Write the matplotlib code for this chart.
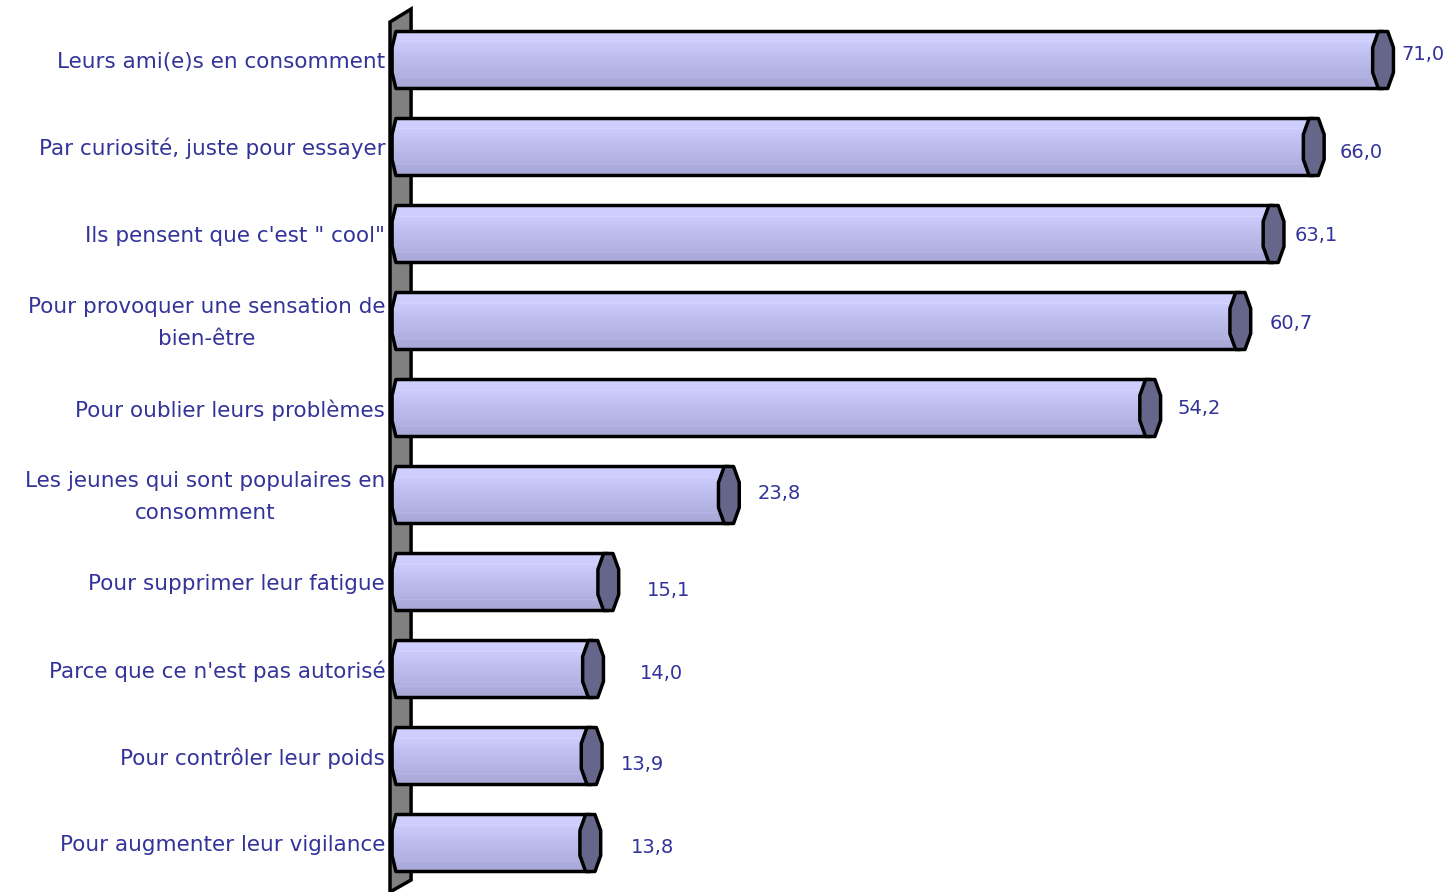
import numpy as np
import matplotlib
matplotlib.use("Agg")
import matplotlib.pyplot as plt
from matplotlib.patches import PathPatch, Polygon
from matplotlib.path import Path

categories = [
    "Leurs ami(e)s en consomment",
    "Par curiosité, juste pour essayer",
    "Ils pensent que c'est \" cool\"",
    "Pour provoquer une sensation de\nbien-être",
    "Pour oublier leurs problèmes",
    "Les jeunes qui sont populaires en\nconsomment",
    "Pour supprimer leur fatigue",
    "Parce que ce n'est pas autorisé",
    "Pour contrôler leur poids",
    "Pour augmenter leur vigilance",
]
values = [71.0, 66.0, 63.1, 60.7, 54.2, 23.8, 15.1, 14.0, 13.9, 13.8]
value_labels = ["71,0", "66,0", "63,1", "60,7", "54,2", "23,8", "15,1", "14,0", "13,9", "13,8"]

# label placement offsets (style, in data units)
label_dx = [1.35, 1.85, 1.55, 2.1, 1.95, 2.05, 2.8, 3.4, 2.1, 2.95]
label_dy = [-0.06, 0.06, 0.02, 0.03, 0.01, -0.02, 0.10, 0.05, 0.10, 0.05]

TEXT = "#333399"
FONT = "DejaVu Sans"

fig = plt.figure(figsize=(14.5, 8.92), dpi=100)
ax = fig.add_axes([0, 0, 1, 1])
ax.set_xlim(-28.79, 75.83)
ax.set_ylim(9.563, -0.6897)
ax.axis("off")

# back wall
wall = Polygon([(-0.65, -0.437), (0.87, -0.586), (0.87, 9.425), (-0.65, 9.563)],
               closed=True, fc="#808080", ec="black", lw=2.5, zorder=1)
ax.add_patch(wall)

h = 0.655
rx_cap = 0.75
rx_left = 0.5


def octagon(cx, cy, rx, hh):
    # coarse ellipse (as rendered by the original chart)
    return [(cx - 0.45 * rx, cy - hh / 2), (cx + 0.45 * rx, cy - hh / 2),
            (cx + rx, cy - hh * 0.22), (cx + rx, cy + hh * 0.22),
            (cx + 0.45 * rx, cy + hh / 2), (cx - 0.45 * rx, cy + hh / 2),
            (cx - rx, cy + hh * 0.22), (cx - rx, cy - hh * 0.22)]


grad = np.array([
    [208, 208, 255],
    [206, 206, 254],
    [200, 200, 248],
    [192, 192, 240],
    [186, 186, 234],
    [180, 180, 228],
    [172, 172, 220],
    [168, 168, 216],
]) / 255.0
ys = np.linspace(0, 1, grad.shape[0])
yy = np.linspace(0, 1, 200)
img = np.stack([np.interp(yy, ys, grad[:, c]) for c in range(3)], axis=-1)
img = img[:, None, :]
for pos in (0.18, 0.8):
    k = int(pos * 199)
    img[k:k + 2, 0, :] = np.minimum(img[k:k + 2, 0, :] + 0.06, 1)

for i, (v, lab, vl) in enumerate(zip(values, categories, value_labels)):
    top, bot = i - h / 2, i + h / 2
    left = [(0, top), (-0.45 * rx_left, top), (-rx_left, i - h * 0.22),
            (-rx_left, i + h * 0.22), (-0.45 * rx_left, bot), (0, bot)]
    verts = left + [(v, bot), (v, top), (0, top)]
    path = Path(verts, closed=True)
    im = ax.imshow(img, extent=(-rx_left, v, bot, top), aspect="auto",
                   zorder=2, interpolation="bilinear")
    clip = PathPatch(path, fc="none", ec="none", transform=ax.transData)
    ax.add_patch(clip)
    im.set_clip_path(clip)
    ax.add_patch(PathPatch(path, fc="none", ec="black", lw=2.5, zorder=3,
                           joinstyle="round"))
    ax.add_patch(Polygon(octagon(v, i, rx_cap, h), closed=True, fc="#66668a",
                         ec="black", lw=2.5, zorder=4, joinstyle="round"))
    ax.text(v + label_dx[i], i + label_dy[i], vl, color=TEXT, fontsize=14,
            family=FONT, ha="left", va="center")
    ax.text(-1.0, i + 0.02, lab, color=TEXT, fontsize=15.5, family=FONT,
            ha="right", va="center", multialignment="center", linespacing=1.75)

fig.savefig("out.png", dpi=100)
